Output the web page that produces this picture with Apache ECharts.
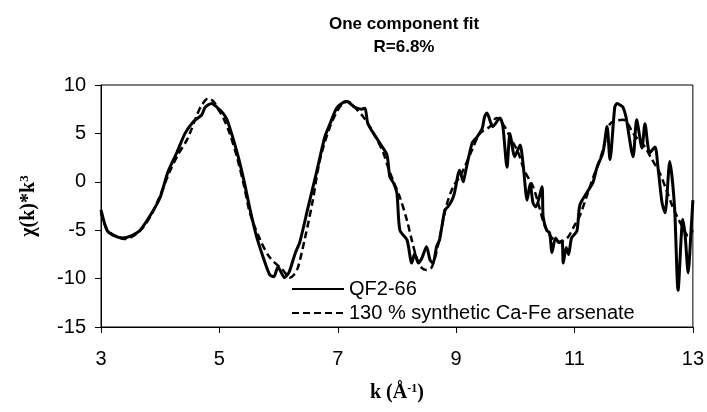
<!DOCTYPE html>
<html>
<head>
<meta charset="utf-8">
<script src="https://cdn.jsdelivr.net/npm/echarts@6/dist/echarts.min.js"></script>
<style>
  html, body { margin: 0; padding: 0; background: #fff; }
  #main { width: 707px; height: 412px; }
</style>
</head>
<body>
<div id="main"></div>
<script>
// measured sample QF2-66
var kSample = [3.00, 3.10, 3.20, 3.37, 3.50, 3.66, 3.86, 4.00, 4.13, 4.28, 4.42, 4.56, 4.70, 4.76, 4.87, 4.96,
  5.06, 5.13, 5.30, 5.42, 5.52, 5.63, 5.74, 5.85, 5.92, 5.99, 6.10, 6.18, 6.28, 6.36, 6.50, 6.65, 6.78, 6.87,
  6.98, 7.09, 7.15, 7.29, 7.40, 7.46, 7.51, 7.71, 7.83, 7.88, 7.94, 8.00, 8.05, 8.17, 8.25, 8.30, 8.36, 8.42,
  8.50, 8.56, 8.61, 8.67, 8.72, 8.81, 8.86, 8.93, 8.97, 9.06, 9.12, 9.14, 9.27, 9.35, 9.44, 9.48, 9.52, 9.62,
  9.74, 9.79, 9.86, 9.91, 9.99, 10.08, 10.13, 10.20, 10.25, 10.30, 10.35, 10.45, 10.47, 10.53, 10.58, 10.62,
  10.68, 10.74, 10.79, 10.81, 10.86, 10.90, 10.95, 11.04, 11.09, 11.20, 11.31, 11.38, 11.48, 11.55, 11.60,
  11.68, 11.72, 11.78, 11.82, 11.87, 11.99, 12.05, 12.14, 12.19, 12.27, 12.36, 12.41, 12.48, 12.53, 12.61,
  12.69, 12.75, 12.83, 12.87, 12.92, 12.97, 13.00];
var chiSample = [-2.9, -5.0, -5.5, -5.8, -5.6, -5.0, -3.2, -1.6, 1.0, 3.0, 5.0, 6.2, 6.9, 7.7, 8.1, 7.7,
  7.1, 6.4, 3.0, 0.0, -2.9, -5.7, -7.8, -9.6, -9.8, -8.8, -9.9, -9.3, -7.4, -6.2, -2.6, 1.2, 4.6, 6.0,
  7.6, 8.2, 8.3, 7.7, 7.5, 7.6, 6.0, 4.0, 2.8, 0.5, -0.1, -1.2, -5.0, -6.0, -8.4, -7.4, -8.4, -7.9,
  -6.7, -8.1, -8.4, -6.7, -6.0, -2.9, -2.6, -1.9, -1.2, 1.2, 0.0, 0.5, 4.0, 4.6, 5.5, 6.7, 7.1, 5.7,
  6.6, 5.7, 1.5, 5.0, 2.6, 3.8, 1.9, -1.9, -0.2, -2.2, -2.6, -0.5, -3.6, -5.0, -5.3, -7.3,
  -5.8, -6.3, -6.1, -8.4, -6.8, -7.5, -5.8, -5.1, -2.4, -1.2, -0.1, 1.5, 3.0, 5.7, 2.3,
  7.7, 8.1, 7.9, 7.7, 6.7, 2.6, 6.4, 3.5, 6.0, 3.0, 3.6, 1.5, -2.2, -3.2, 2.1,
  -2.6, -11.2, -3.9, -5.6, -9.4, -5.0, -1.9];

// one component fit, 130 % synthetic Ca-Fe arsenate
var kFit = [3.00, 3.10, 3.25, 3.40, 3.55, 3.70, 3.85, 4.00, 4.15, 4.30, 4.45, 4.52, 4.62, 4.70, 4.81, 4.90,
  5.00, 5.06, 5.18, 5.30, 5.42, 5.52, 5.69, 5.85, 6.07, 6.19, 6.26, 6.33, 6.45, 6.57, 6.70, 6.87, 7.00,
  7.09, 7.17, 7.30, 7.42, 7.54, 7.65, 7.77, 7.85, 7.93, 8.05, 8.17, 8.25, 8.33, 8.42, 8.50, 8.59, 8.70,
  8.83, 8.95, 9.06, 9.15, 9.27, 9.40, 9.57, 9.68, 9.82, 9.92, 10.05, 10.15, 10.30, 10.40, 10.50, 10.62,
  10.75, 10.88, 11.00, 11.09, 11.20, 11.30, 11.43, 11.52, 11.60, 11.70, 11.82, 11.90, 11.99, 12.10,
  12.19, 12.30, 12.44, 12.55, 12.66, 12.75, 12.83, 12.92, 13.00];
var chiFit = [-3.2, -4.9, -5.6, -5.9, -5.6, -4.8, -3.4, -1.4, 0.9, 2.8, 4.3, 5.3, 6.9, 7.9, 8.6, 8.3,
  7.3, 6.7, 4.9, 2.5, -0.5, -3.3, -6.0, -7.8, -9.1, -9.9, -9.6, -8.8, -5.7, -2.2, 2.3, 5.7, 7.4,
  8.1, 8.3, 7.6, 6.8, 5.7, 4.5, 3.0, 1.5, 0.2, -1.6, -4.0, -6.0, -7.8, -8.9, -9.1, -8.8, -6.4,
  -2.6, -0.5, 0.5, 1.6, 3.3, 5.0, 5.7, 6.6, 5.7, 4.5, 3.0, 1.2, -0.5, -2.5, -4.6, -5.8,
  -6.2, -5.8, -4.5, -3.5, -1.6, 0.2, 2.3, 4.2, 6.0, 6.3, 6.4, 6.0, 5.0, 4.2,
  3.6, 2.4, 0.9, -0.8, -2.6, -3.8, -4.7, -5.6, -5.0];

var xTicks = [3, 5, 7, 9, 11, 13];
var yTicks = [-15, -10, -5, 0, 5, 10];

function pairs(xs, ys) {
  var out = [];
  for (var i = 0; i < xs.length; i++) out.push([xs[i], ys[i]]);
  return out;
}

var chart = echarts.init(document.getElementById('main'));
var sans = 'Liberation Sans, Arial, sans-serif';
var serif = 'Liberation Serif, Times New Roman, serif';

chart.setOption({
  animation: false,
  backgroundColor: '#fff',
  title: {
    text: 'One component fit\nR=6.8%',
    left: 399,
    textAlign: 'center',
    top: 8,
    textStyle: { fontFamily: sans, fontWeight: 'bold', fontSize: 17, color: '#000', lineHeight: 23 }
  },
  legend: {
    orient: 'vertical',
    left: 286,
    top: 274,
    itemWidth: 52,
    itemHeight: 14,
    itemGap: 4,
    itemStyle: { opacity: 0 },
    textStyle: { fontFamily: sans, fontSize: 20, color: '#000' },
    data: ['QF2-66', '130 % synthetic Ca-Fe arsenate']
  },
  grid: {
    left: 101, right: 14, top: 85, bottom: 85,
    show: true, borderColor: '#000', borderWidth: 1
  },
  xAxis: {
    type: 'value',
    min: xTicks[0],
    max: xTicks[xTicks.length - 1],
    interval: 2,
    name: '{b|k (Å}{s|-1}{b|)}',
    nameLocation: 'middle',
    nameGap: 56,
    nameTextStyle: {
      rich: {
        b: { fontFamily: serif, fontWeight: 'bold', fontSize: 20, color: '#000' },
        s: { fontFamily: serif, fontWeight: 'bold', fontSize: 12, color: '#000', verticalAlign: 'top', padding: [0, 0, 8, 0] }
      }
    },
    axisLine: { onZero: false, lineStyle: { color: '#000', width: 1 } },
    axisTick: { inside: false, length: 6, lineStyle: { color: '#000' } },
    axisLabel: { fontFamily: sans, fontSize: 20, color: '#000', margin: 22 },
    splitLine: { show: false }
  },
  yAxis: {
    type: 'value',
    min: yTicks[0],
    max: yTicks[yTicks.length - 1],
    interval: 5,
    name: '{b|χ(k)*k}{s|3}',
    nameLocation: 'middle',
    nameRotate: 90,
    nameGap: 62,
    nameTextStyle: {
      rich: {
        b: { fontFamily: serif, fontWeight: 'bold', fontSize: 20, color: '#000' },
        s: { fontFamily: serif, fontWeight: 'bold', fontSize: 13, color: '#000', verticalAlign: 'top', padding: [0, 0, 8, 0] }
      }
    },
    axisLine: { show: true, onZero: false, lineStyle: { color: '#000', width: 1 } },
    axisTick: { show: true, inside: false, length: 6, lineStyle: { color: '#000' } },
    axisLabel: { fontFamily: sans, fontSize: 20, color: '#000', margin: 15 },
    splitLine: { show: false }
  },
  series: [
    {
      name: 'QF2-66',
      type: 'line',
      data: pairs(kSample, chiSample),
      showSymbol: false,
      symbol: 'none',
      smooth: 0.25,
      lineStyle: { color: '#000', width: 3 },
      itemStyle: { color: '#000' }
    },
    {
      name: '130 % synthetic Ca-Fe arsenate',
      type: 'line',
      data: pairs(kFit, chiFit),
      showSymbol: false,
      symbol: 'none',
      smooth: 0.3,
      lineStyle: { color: '#000', width: 2.5, type: [7, 4] },
      itemStyle: { color: '#000' }
    }
  ]
});
</script>
</body>
</html>
